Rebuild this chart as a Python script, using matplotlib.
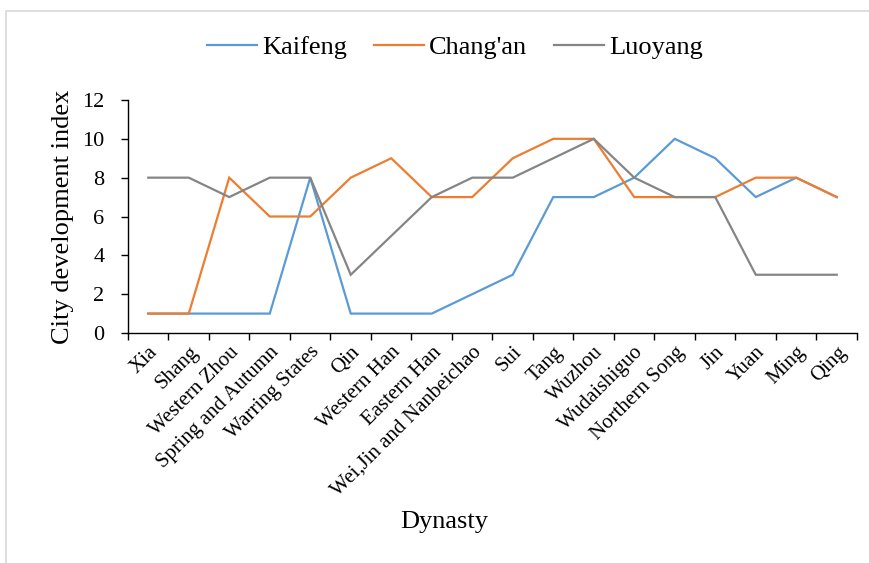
import matplotlib
matplotlib.use("Agg")
import matplotlib.pyplot as plt
from matplotlib.patches import Rectangle

dynasties = ["Xia", "Shang", "Western Zhou", "Spring and Autumn", "Warring States",
             "Qin", "Western Han", "Eastern Han", "Wei,Jin and Nanbeichao", "Sui",
             "Tang", "Wuzhou", "Wudaishiguo", "Northern Song", "Jin", "Yuan",
             "Ming", "Qing"]
kaifeng = [1, 1, 1, 1, 8, 1, 1, 1, 2, 3, 7, 7, 8, 10, 9, 7, 8, 7]
changan = [1, 1, 8, 6, 6, 8, 9, 7, 7, 9, 10, 10, 7, 7, 7, 8, 8, 7]
luoyang = [8, 8, 7, 8, 8, 3, 5, 7, 8, 8, 9, 10, 8, 7, 7, 3, 3, 3]
yticks = [0, 2, 4, 6, 8, 10, 12]

plt.rcParams["font.family"] = ["Liberation Serif", "DejaVu Serif"]

W, H = 870, 563
fig = plt.figure(figsize=(W / 100, H / 100), dpi=100)
ax = fig.add_axes([128 / W, 1 - 333 / H, (857 - 128) / W, (333 - 100) / H])

x = list(range(len(dynasties)))
series = [("Kaifeng", kaifeng, "#5B9BD5"),
          ("Chang'an", changan, "#ED7D31"),
          ("Luoyang", luoyang, "#858585")]
for name, vals, col in series:
    ax.plot(x, vals, color=col, lw=1.6, label=name, solid_joinstyle="miter")

ax.set_xlim(-0.5, len(dynasties) - 0.5)
ax.set_ylim(0, 12)
ax.set_yticks(yticks)
ax.set_yticklabels([str(v) for v in yticks], fontsize=16)

# category labels centred, tick marks between categories
ax.set_xticks(x)
ax.set_xticklabels(dynasties, rotation=45, ha="right", va="top",
                   rotation_mode="anchor", fontsize=15)
ax.tick_params(axis="x", which="major", length=0, pad=7)
ax.set_xticks([i - 0.5 for i in range(len(dynasties) + 1)], minor=True)
ax.tick_params(axis="x", which="minor", length=5, width=1, color="#000000")
ax.tick_params(axis="y", length=5, width=1, color="#000000", pad=12)

for s in ["top", "right"]:
    ax.spines[s].set_visible(False)
for s in ["left", "bottom"]:
    ax.spines[s].set_color("#000000")
    ax.spines[s].set_linewidth(1)

ax.set_ylabel("City development index", fontsize=19, labelpad=6)
fig.text(444 / W, 1 - 522 / H, "Dynasty", fontsize=19, ha="center", va="center")

fig.legend(loc="center", bbox_to_anchor=(455 / W, 1 - 47 / H), ncol=3,
           frameon=False, fontsize=19, handlelength=1.9, handletextpad=0.2,
           columnspacing=1.0)

fig.patches.append(Rectangle((6 / W, -0.1), 1.2, 1.1 - 11 / H,
                             transform=fig.transFigure, fill=False,
                             ec="#d9d9d9", lw=1.2))

fig.savefig("out.png", dpi=100, facecolor="white")
